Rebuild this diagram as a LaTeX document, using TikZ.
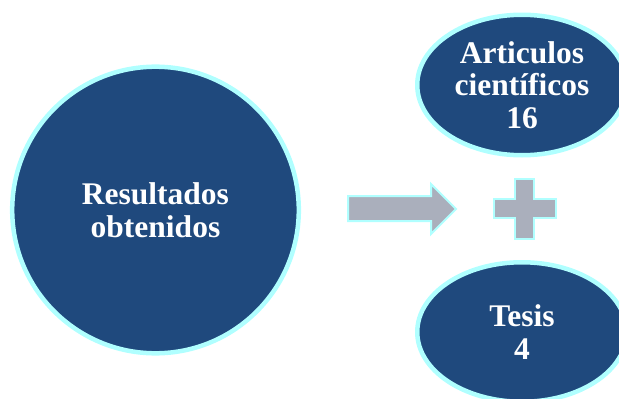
\documentclass[tikz,border=0pt]{standalone}
\usepackage{fontspec}
\setmainfont{Liberation Serif}
\usetikzlibrary{shapes.geometric}
\definecolor{darkblue}{HTML}{1F497D}
\definecolor{ringcyan}{HTML}{B0FFFF}
\definecolor{arrowgray}{HTML}{AAAFBC}
\tikzset{
  bubble/.style={fill=darkblue, draw=ringcyan, line width=4.5pt, inner sep=0pt,
    text=white, align=center, font=\bfseries\fontsize{31.5}{32.5}\selectfont},
  blockshape/.style={fill=arrowgray, draw=ringcyan, line width=2pt, line join=miter}
}
\begin{document}
\begin{tikzpicture}[x=1pt,y=-1pt]
\useasboundingbox (0,0) rectangle (619,399);
\node[bubble, circle, minimum size=286.6pt] (res) at (155.5,210) {Resultados\\obtenidos};
\node[bubble, ellipse, minimum width=209.5pt, minimum height=140.5pt] (art) at (522,85) {Articulos\\científicos\\16};
\node[bubble, ellipse, minimum width=209.5pt, minimum height=139.5pt] (tes) at (522,332) {Tesis\\4};
\draw[blockshape] (348,196) -- (431,196) -- (431,184) -- (456,209) -- (431,234) -- (431,221) -- (348,221) -- cycle;
\draw[blockshape] (515,179) -- (534,179) -- (534,199) -- (556,199) -- (556,218) -- (534,218) -- (534,239) -- (515,239) -- (515,218) -- (494,218) -- (494,199) -- (515,199) -- cycle;
\end{tikzpicture}
\end{document}
